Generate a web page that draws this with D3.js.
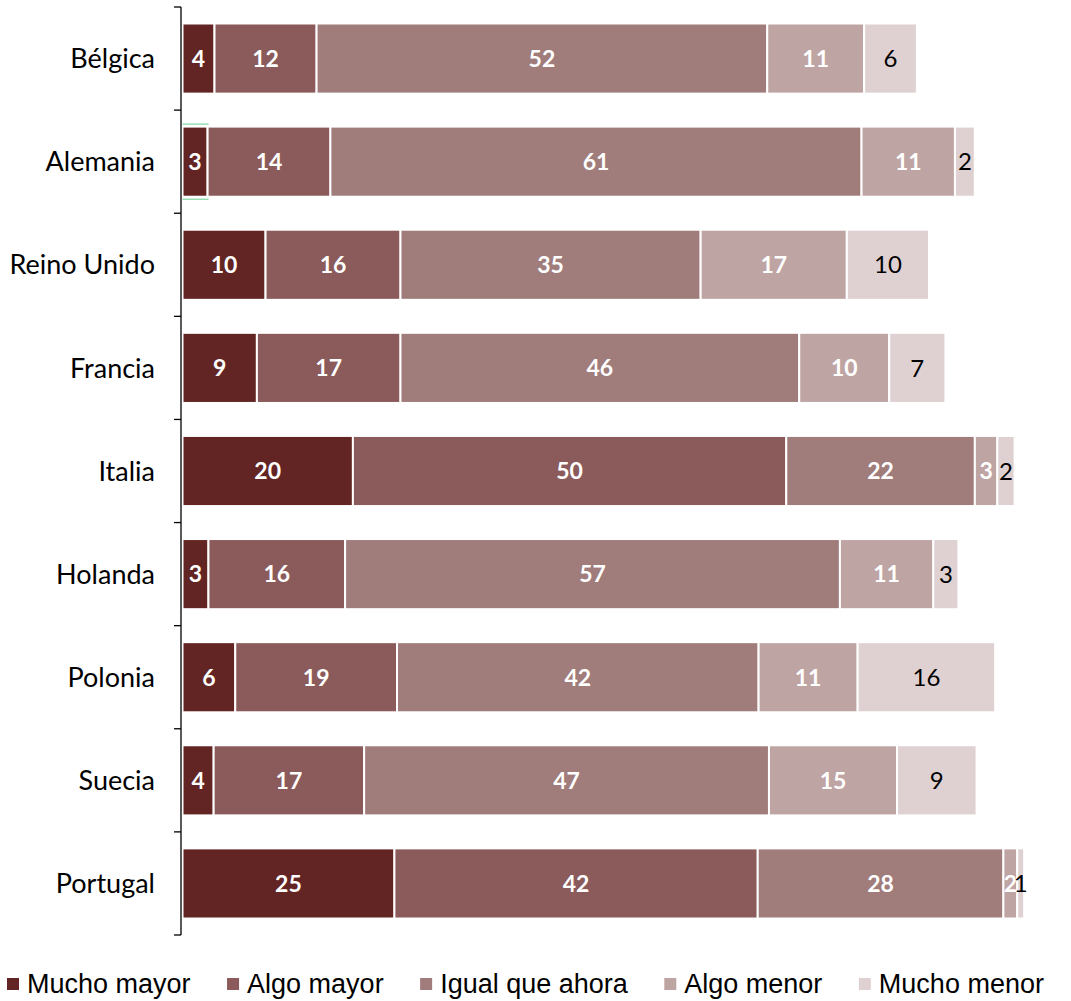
<!DOCTYPE html>
<html><head><meta charset="utf-8">
<script src="https://cdn.jsdelivr.net/npm/d3@7"></script>
<style>body{margin:0;background:#fff}</style>
</head><body><svg id="chart" width="1071" height="1001"></svg>
<script>
const categories = ["Bélgica","Alemania","Reino Unido","Francia","Italia","Holanda","Polonia","Suecia","Portugal"];
const seriesNames = ["Mucho mayor","Algo mayor","Igual que ahora","Algo menor","Mucho menor"];
// estimated unrounded values (labels show rounded values)
const muchoMayor = [3.7, 2.9, 9.6, 8.6, 19.7, 3.0, 6.1, 3.6, 24.5];
const algoMayor  = [11.8, 14.2, 15.6, 16.6, 50.1, 15.8, 18.7, 17.4, 42.0];
const igual      = [52.1, 61.4, 34.7, 46.1, 21.8, 57.2, 41.8, 46.8, 28.4];
const algoMenor  = [11.2, 10.8, 16.9, 10.4, 2.6, 10.8, 11.45, 14.8, 1.6];
const muchoMenor = [6.1, 2.3, 9.5, 6.5, 2.0, 2.9, 15.9, 9.2, 0.8];
const colors = ["#632523","#8B5A5A","#A07C7B","#BFA4A4","#DFD1D2"];

const series = [muchoMayor, algoMayor, igual, algoMenor, muchoMenor];
const rows = categories.map((c,i)=>{const o={cat:c}; seriesNames.forEach((s,j)=>o[s]=series[j][i]); return o;});
const stacked = d3.stack().keys(seriesNames)(rows);

const svg = d3.select("#chart");
const x = d3.scaleLinear().domain([0,100]).range([182.5,1047.5]);
const y = d3.scaleBand().domain(categories).range([7,935]).paddingInner(0.32).paddingOuter(0.16);
const color = d3.scaleOrdinal().domain(seriesNames).range(colors);

// bars
const g = svg.append("g");
stacked.forEach((layer,j)=>{
  const lg = g.append("g");
  lg.selectAll("rect").data(layer).join("rect")
    .attr("x", d=>x(d[0]))
    .attr("y", d=>y(d.data.cat))
    .attr("width", d=>x(d[1])-x(d[0]))
    .attr("height", y.bandwidth())
    .attr("fill", color(seriesNames[j]))
    .attr("stroke","#fff").attr("stroke-width",2);
  lg.selectAll("text").data(layer).join("text")
    .attr("x", d=>(x(d[0])+x(d[1]))/2)
    .attr("y", d=>y(d.data.cat)+y.bandwidth()/2)
    .attr("dy","0.36em")
    .attr("text-anchor","middle")
    .attr("font-family","Lato, 'Open Sans', sans-serif")
    .attr("font-size", j<4?23:24)
    .attr("font-weight", j<4?700:400)
    .attr("fill", j<4?"#fff":"#000")
    .text(d=>Math.round(d[1]-d[0]));
});

// selection artifact on Alemania
const aL = stacked[0][1];
g.append("line").attr("x1",x(0)).attr("x2",x(aL[1])+1).attr("y1",y("Alemania")-2.5).attr("y2",y("Alemania")-2.5)
  .attr("stroke","#7fd4a0").attr("stroke-width",1.2);
g.append("line").attr("x1",x(0)).attr("x2",x(aL[1])+1).attr("y1",y("Alemania")+y.bandwidth()+2.5).attr("y2",y("Alemania")+y.bandwidth()+2.5)
  .attr("stroke","#7fd4a0").attr("stroke-width",1.2);

// axis
const ax = svg.append("g");
ax.append("line").attr("x1",181).attr("x2",181).attr("y1",y.range()[0]).attr("y2",y.range()[1]).attr("stroke","#000").attr("stroke-width",1.3);
const bounds = d3.range(categories.length+1).map(i=>y.range()[0]+i*(y.range()[1]-y.range()[0])/categories.length);
ax.selectAll("line.t").data(bounds).join("line").attr("class","t")
  .attr("x1",174).attr("x2",181).attr("y1",d=>d).attr("y2",d=>d).attr("stroke","#000").attr("stroke-width",1.3);
ax.selectAll("text").data(categories).join("text")
  .attr("x",155).attr("y",d=>y(d)+y.bandwidth()/2).attr("dy","0.36em")
  .attr("text-anchor","end").attr("font-family","Lato, 'Open Sans', sans-serif").attr("font-size",27)
  .attr("fill","#000").text(d=>d);

// legend
const leg = svg.append("g");
let lx = 7;
seriesNames.forEach((s,j)=>{
  leg.append("rect").attr("x",lx).attr("y",978).attr("width",12).attr("height",12).attr("fill",colors[j]);
  const t = leg.append("text").attr("x",lx+20).attr("y",993).attr("font-family","'Liberation Sans', Arial, sans-serif")
    .attr("font-size",27).attr("fill","#000").text(s);
  lx += 20 + t.node().getComputedTextLength() + 36.5;
});
</script></body></html>
